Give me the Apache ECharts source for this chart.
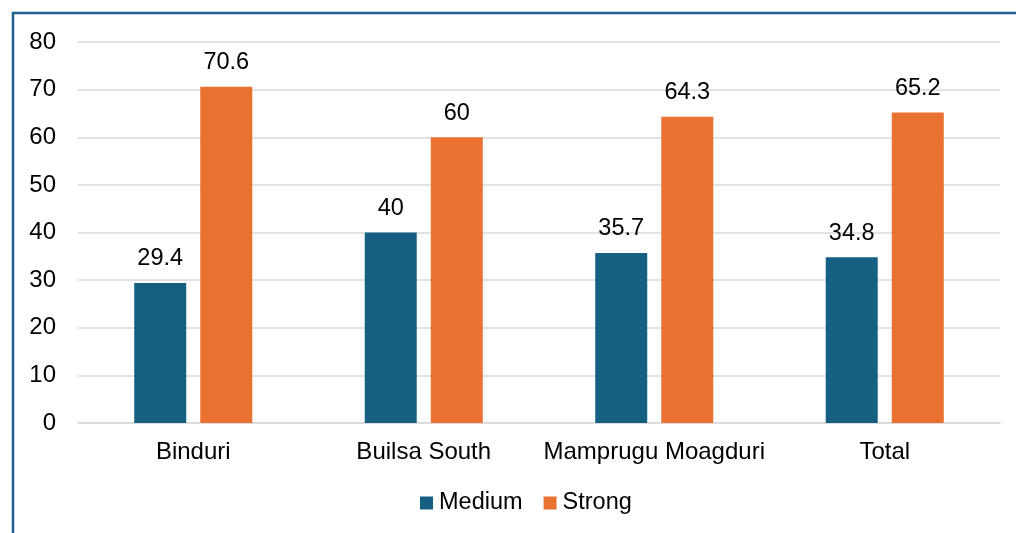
<!DOCTYPE html>
<html>
<head>
<meta charset="utf-8">
<script src="https://cdn.jsdelivr.net/npm/echarts@6/dist/echarts.min.js"></script>
<style>
  html, body { margin: 0; padding: 0; background: #fff; }
  #chart { width: 1016px; height: 533px; }
</style>
</head>
<body>
<div id="chart"></div>
<script>
const categories = ['Binduri', 'Builsa South', 'Mamprugu Moagduri', 'Total']
const mediumValues = [29.4, 40, 35.7, 34.8]
const strongValues = [70.6, 60, 64.3, 65.2]

const font = 'Arial, "Liberation Sans", sans-serif'

const chart = echarts.init(document.getElementById('chart'))

const labelStyle = {
  show: true,
  position: 'top',
  distance: 12,
  color: '#000',
  fontSize: 23.5,
  fontFamily: font
}

chart.setOption({
  animation: false,
  graphic: [
    {
      type: 'polyline',
      shape: { points: [[13, 540], [13, 13], [1020, 13]] },
      style: { stroke: '#1c628c', lineWidth: 2.5, fill: null }
    }
  ],
  grid: {
    left: 78,
    right: 16,
    top: 42,
    bottom: 110
  },
  legend: {
    bottom: 13,
    left: 415,
    itemWidth: 13,
    itemHeight: 13,
    itemGap: 21,
    icon: 'rect',
    textStyle: {
      color: '#000',
      fontSize: 23.5,
      fontFamily: font,
      padding: [0, 0, 0, 1]
    },
    data: ['Medium', 'Strong']
  },
  xAxis: {
    type: 'category',
    data: categories,
    axisLine: { lineStyle: { color: '#d9d9d9', width: 1.5 } },
    axisTick: { show: false },
    axisLabel: {
      interval: 0,
      color: '#000',
      fontSize: 24,
      fontFamily: font,
      margin: 17
    }
  },
  yAxis: {
    type: 'value',
    min: 0,
    max: 80,
    interval: 10,
    axisLine: { show: false },
    axisTick: { show: false },
    splitLine: { lineStyle: { color: '#d9d9d9', width: 1.5 } },
    axisLabel: {
      color: '#000',
      fontSize: 24,
      fontFamily: font,
      margin: 22
    }
  },
  series: [
    {
      name: 'Medium',
      type: 'bar',
      data: mediumValues,
      barWidth: 52,
      barGap: '27%',
      itemStyle: { color: '#156082' },
      label: labelStyle
    },
    {
      name: 'Strong',
      type: 'bar',
      data: strongValues,
      barWidth: 52,
      itemStyle: { color: '#e97132' },
      label: labelStyle
    }
  ]
})
</script>
</body>
</html>
